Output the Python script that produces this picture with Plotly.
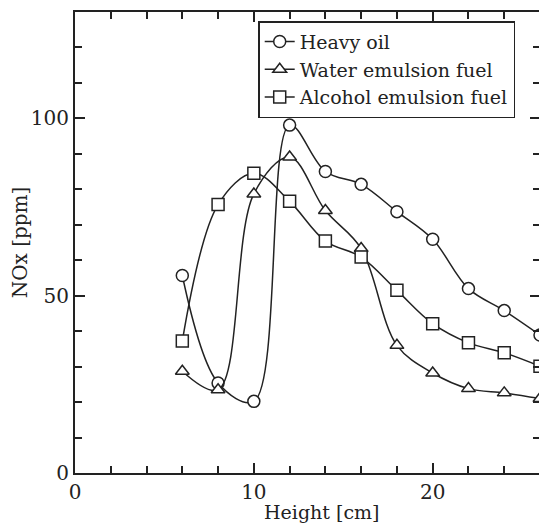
import plotly.graph_objects as go

heights = [6, 8, 10, 12, 14, 16, 18, 20, 22, 24, 26]
heavy_oil = [55.7, 25.4, 20.2, 98.1, 85.0, 81.4, 73.7, 65.9, 52.0, 45.8, 38.9]
water_emulsion = [28.7, 23.5, 78.7, 89.1, 74.0, 63.3, 36.0, 28.2, 23.8, 22.6, 21.0]
alcohol_emulsion = [37.2, 75.7, 84.5, 76.6, 65.4, 60.9, 51.5, 42.1, 36.7, 33.9, 30.1]

series = [
    ("Heavy oil", heavy_oil, "circle"),
    ("Water emulsion fuel", water_emulsion, "triangle-up"),
    ("Alcohol emulsion fuel", alcohol_emulsion, "square"),
]

FONT = "DejaVu Serif"
INK = "#222222"

fig = go.Figure()
for name, vals, sym in series:
    fig.add_trace(go.Scatter(
        x=heights, y=vals, name=name, mode="lines+markers",
        line=dict(color=INK, width=1.5, shape="spline", smoothing=1.0),
        marker=dict(symbol=sym, size=12, color="white",
                    line=dict(color=INK, width=1.5)),
    ))

axis_common = dict(
    showline=True, linecolor=INK, linewidth=2, mirror="ticks",
    ticks="inside", tickcolor=INK, tickwidth=1.5, ticklen=10,
    showgrid=False, zeroline=False, automargin=False,
    tickfont=dict(family=FONT, size=20, color=INK),
)

fig.update_xaxes(
    range=[0, 26], dtick=10, tick0=0,
    minor=dict(dtick=2, ticks="inside", ticklen=7, tickcolor=INK, tickwidth=1.5, showgrid=False),
    **axis_common,
)
fig.update_yaxes(
    range=[0, 130], dtick=50, tick0=0,
    minor=dict(dtick=10, ticks="inside", ticklen=7, tickcolor=INK, tickwidth=1.5, showgrid=False),
    title=dict(text="NOx [ppm]", font=dict(family=FONT, size=20, color=INK), standoff=3),
    **axis_common,
)

fig.add_annotation(
    text="Height [cm]", xref="paper", yref="paper", x=0.5, y=0,
    xanchor="center", yanchor="middle", xshift=14, yshift=-39, showarrow=False,
    font=dict(family=FONT, size=19, color=INK),
)

fig.update_layout(
    width=539, height=517,
    margin=dict(l=67, r=7, t=4, b=52, autoexpand=False),
    paper_bgcolor="white", plot_bgcolor="white",
    showlegend=True,
    legend=dict(
        x=0.394, y=0.98, xanchor="left", yanchor="top",
        bgcolor="white", bordercolor=INK, borderwidth=1.5,
        font=dict(family=FONT, size=19, color=INK),
        tracegroupgap=0, itemwidth=30,
    ),
)

fig.write_html("out.html")
